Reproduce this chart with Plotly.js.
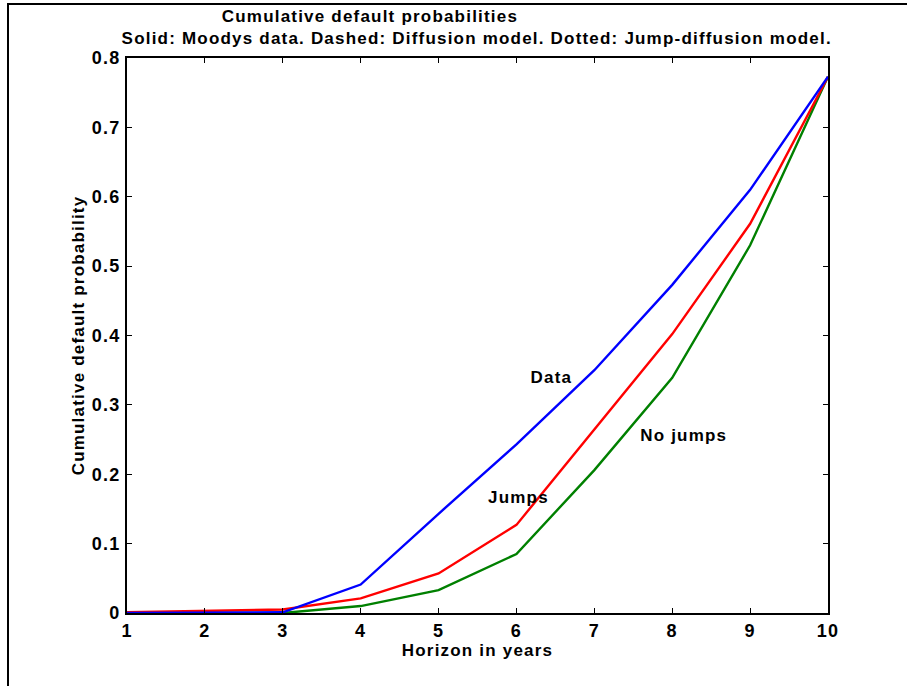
<!DOCTYPE html>
<html>
<head>
<meta charset="utf-8">
<script src="https://cdn.plot.ly/plotly-3.0.1.min.js"></script>
<style>
html,body{margin:0;padding:0;background:#fff;}
#wrap{position:relative;width:907px;height:686px;}
#chart{width:907px;height:686px;}
#chart text{letter-spacing:1.2px;}
#frame{position:absolute;left:7px;top:3px;width:900px;height:683px;border-top:2px solid #000;border-left:2px solid #000;pointer-events:none;}
</style>
</head>
<body>
<div id="wrap"><div id="chart"></div><div id="frame"></div></div>
<script>
const horizon = [1, 2, 3, 4, 5, 6, 7, 8, 9, 10];
const dataMoodys = [0, 0, 0.001, 0.041, 0.143, 0.243, 0.350, 0.473, 0.610, 0.773];
const jumps = [0.001, 0.003, 0.005, 0.021, 0.057, 0.127, 0.264, 0.402, 0.561, 0.773];
const noJumps = [0, 0, 0, 0.010, 0.033, 0.085, 0.206, 0.339, 0.530, 0.773];
const xTicks = [1, 2, 3, 4, 5, 6, 7, 8, 9, 10];
const yTicks = [0, 0.1, 0.2, 0.3, 0.4, 0.5, 0.6, 0.7, 0.8];
const yTickText = ['0', '0.1', '0.2', '0.3', '0.4', '0.5', '0.6', '0.7', '0.8'];

const F = {family: 'Liberation Sans, Arial, sans-serif', color: '#000', weight: 'bold'};
const fs = 17;

const traces = [
  {x: horizon, y: noJumps, mode: 'lines', line: {color: '#008000', width: 2.4}, name: 'No jumps'},
  {x: horizon, y: jumps, mode: 'lines', line: {color: '#ff0000', width: 2.4}, name: 'Jumps'},
  {x: horizon, y: dataMoodys, mode: 'lines', line: {color: '#0000ff', width: 2.4}, name: 'Data'}
];

const axisCommon = {
  showline: true, linecolor: '#000', linewidth: 2, mirror: 'ticks',
  ticks: 'inside', ticklen: 5, tickwidth: 1, tickcolor: '#000',
  showgrid: false, zeroline: false,
  tickfont: Object.assign({size: 18}, F)
};

const layout = {
  width: 907, height: 686,
  margin: {l: 127, r: 79, t: 58, b: 73},
  paper_bgcolor: '#fff', plot_bgcolor: '#fff',
  showlegend: false,
  xaxis: Object.assign({}, axisCommon, {
    range: [1, 10], tickvals: xTicks, ticktext: xTicks.map(String), ticklabelstandoff: 0,
    title: {text: 'Horizon in years', font: Object.assign({size: fs}, F), standoff: 0}
  }),
  yaxis: Object.assign({}, axisCommon, {
    range: [0, 0.8], tickvals: yTicks, ticktext: yTickText, ticklabelstandoff: 1,
    title: {text: 'Cumulative default probability', font: Object.assign({size: fs}, F), standoff: 6}
  }),
  annotations: [
    {text: 'Cumulative default probabilities', xref: 'paper', yref: 'paper', x: 0.3466, y: 1.0739,
     xanchor: 'center', yanchor: 'middle', showarrow: false, font: Object.assign({size: fs}, F)},
    {text: 'Solid: Moodys data. Dashed: Diffusion model. Dotted: Jump-diffusion model.', xref: 'paper', yref: 'paper',
     x: 0.4979, y: 1.036, xanchor: 'center', yanchor: 'middle', showarrow: false, font: Object.assign({size: fs}, F)},
    {text: 'Data', x: 6.45, y: 0.340, xanchor: 'center', yanchor: 'middle', showarrow: false, font: Object.assign({size: fs}, F)},
    {text: 'Jumps', x: 6.03, y: 0.167, xanchor: 'center', yanchor: 'middle', showarrow: false, font: Object.assign({size: fs}, F)},
    {text: 'No jumps', x: 8.14, y: 0.256, xanchor: 'center', yanchor: 'middle', showarrow: false, font: Object.assign({size: fs}, F)}
  ]
};

Plotly.newPlot('chart', traces, layout, {displayModeBar: false, staticPlot: true});
</script>
</body>
</html>
